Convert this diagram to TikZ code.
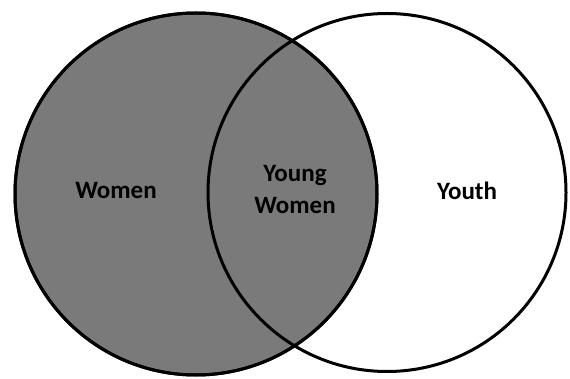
\documentclass[tikz,border=0pt]{standalone}
\usepackage{fontspec}
\setmainfont{Carlito}
\usepackage{xcolor}
\usepackage{tikz}
\usetikzlibrary{positioning}

\definecolor{setgray}{RGB}{122,122,122}

\begin{document}
\begin{tikzpicture}[
        x=1pt, y=-1pt,
        setcircle/.style={
            circle,
            draw=black,
            line width=3pt,
            inner sep=0pt
        },
        setlabel/.style={
            font=\bfseries\fontsize{25}{32}\selectfont,
            align=center,
            inner sep=0pt
        }
    ]

    \useasboundingbox (0,0) rectangle (570,379);

    % the two sets
    \node[setcircle, fill=setgray, minimum size=362pt] (women) at (196,194) {};
    \node[setcircle, minimum size=358pt] (youth) at (387,192.5) {};

    % redraw the left outline over the right one
    \node[setcircle, minimum size=362pt] (womenline) at (women.center) {};

    \node[setlabel, anchor=base] (womenlabel) at (116,199) {Women};
    \node[setlabel] (younglabel) at (295,189) {Young\\Women};
    \node[setlabel, anchor=base] (youthlabel) at (467,200) {Youth};

\end{tikzpicture}
\end{document}
